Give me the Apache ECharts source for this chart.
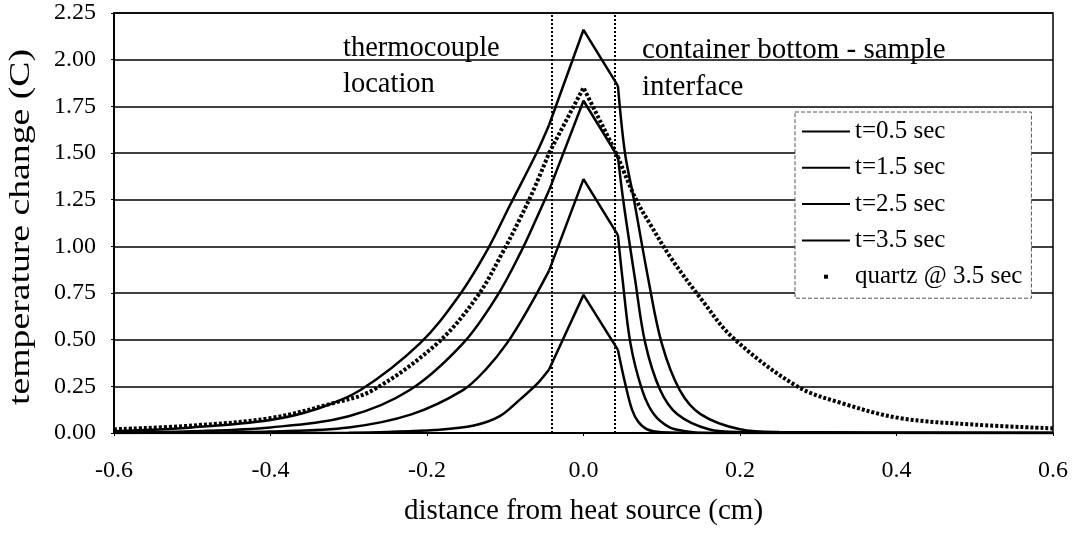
<!DOCTYPE html>
<html lang="en">
  <head>
    <meta charset="UTF-8" />
    <title>Temperature change vs distance from heat source</title>
    <script src="https://cdn.jsdelivr.net/npm/echarts@6/dist/echarts.min.js"></script>
    <style>
      body {
        margin: 0;
        background-color: #ffffff;
      }
      #chart {
        width: 1073px;
        height: 536px;
      }
    </style>
  </head>
  <body>
    <div id="chart"></div>
    <script>
      // values
      var x05 = [-0.6, -0.4, -0.3, -0.25, -0.19, -0.14, -0.107, -0.081, -0.06, -0.044, 0, 0.044, 0.053, 0.062, 0.07, 0.081, 0.1, 0.15, 0.6];
      var y05 = [0, 0, 0.002, 0.006, 0.016, 0.04, 0.09, 0.18, 0.26, 0.34, 0.74, 0.445, 0.27, 0.125, 0.06, 0.02, 0.004, 0, 0];

      var x15 = [-0.6, -0.5, -0.4, -0.3, -0.22, -0.154, -0.125, -0.098, -0.07, -0.044, 0, 0.044, 0.05, 0.06, 0.075, 0.09, 0.11, 0.13, 0.16, 0.6];
      var y15 = [0, 0.002, 0.008, 0.03, 0.1, 0.23, 0.34, 0.48, 0.67, 0.87, 1.36, 1.06, 0.82, 0.48, 0.23, 0.1, 0.03, 0.01, 0, 0];

      var x25 = [-0.6, -0.5, -0.4, -0.3, -0.222, -0.154, -0.111, -0.08, -0.06, -0.044, 0, 0.044, 0.051, 0.066, 0.079, 0.098, 0.12, 0.16, 0.2, 0.6];
      var y25 = [0.003, 0.01, 0.03, 0.09, 0.23, 0.48, 0.73, 0.97, 1.15, 1.3, 1.78, 1.48, 1.24, 0.82, 0.48, 0.23, 0.1, 0.02, 0.005, 0];

      var x35 = [-0.6, -0.5, -0.4, -0.34, -0.285, -0.209, -0.16, -0.123, -0.094, -0.06, -0.044, 0, 0.044, 0.053, 0.064, 0.083, 0.1, 0.123, 0.15, 0.2, 0.25, 0.6];
      var y35 = [0.01, 0.03, 0.07, 0.13, 0.23, 0.48, 0.73, 0.98, 1.22, 1.5, 1.65, 2.16, 1.86, 1.5, 1.26, 0.82, 0.48, 0.23, 0.1, 0.02, 0.005, 0];

      var xq = [-0.6, -0.5, -0.4, -0.32, -0.269, -0.187, -0.136, -0.103, -0.081, -0.064, -0.044, 0, 0.044, 0.066, 0.085, 0.113, 0.15, 0.191, 0.273, 0.33, 0.404, 0.5, 0.6];
      var yq = [0.02, 0.04, 0.08, 0.16, 0.23, 0.48, 0.73, 0.97, 1.15, 1.3, 1.5, 1.85, 1.48, 1.26, 1.12, 0.93, 0.72, 0.51, 0.25, 0.16, 0.08, 0.045, 0.025];

      var names = ["t=0.5 sec", "t=1.5 sec", "t=2.5 sec", "t=3.5 sec", "quartz @ 3.5 sec"];
      // thermocouple location and container bottom / sample interface
      var markerX = [-0.044, 0.044];

      var serif = '"Liberation Serif", "Times New Roman", serif';
      var chart = echarts.init(document.getElementById("chart"));

      // each curve is cut at the two marker lines: smooth tails, straight middle
      function pieces(name, xs, ys, lineStyle) {
        var pts = xs.map(function (x, i) {
          return [x, ys[i]];
        });
        var lo = markerX[0];
        var hi = markerX[1];
        var parts = [
          { data: pts.filter(function (p) { return p[0] <= lo; }), smooth: 0.35 },
          { data: pts.filter(function (p) { return p[0] >= lo && p[0] <= hi; }), smooth: false },
          { data: pts.filter(function (p) { return p[0] >= hi; }), smooth: 0.35 },
        ];
        return parts.map(function (part) {
          return {
            name: name,
            type: "line",
            symbol: "none",
            showSymbol: false,
            smooth: part.smooth,
            data: part.data,
            color: "#000",
            lineStyle: lineStyle,
            z: 3,
          };
        });
      }

      var solid = { color: "#000", width: 2.5 };
      var dots = { color: "#000", width: 4, type: [3, 2] };

      var series = []
        .concat(pieces(names[0], x05, y05, solid))
        .concat(pieces(names[1], x15, y15, solid))
        .concat(pieces(names[2], x25, y25, solid))
        .concat(pieces(names[3], x35, y35, solid))
        .concat(pieces(names[4], xq, yq, dots));

      series[0].markLine = {
        silent: true,
        symbol: ["none", "none"],
        label: { show: false },
        lineStyle: { color: "#000", type: "dotted", width: 2 },
        data: markerX.map(function (x) {
          return { xAxis: x };
        }),
      };

      var lineIcon = "path://M0,0 M48,14 M0,6 L48,6 L48,8 L0,8 Z";
      var dotIcon = "path://M0,0 M48,14 M22,5 L26,5 L26,9 L22,9 Z";

      var options = {
        animation: false,
        backgroundColor: "#fff",
        grid: {
          left: 114,
          right: 20,
          top: 13,
          bottom: 103,
          show: true,
          borderColor: "#000",
          borderWidth: 1.5,
        },
        legend: {
          orient: "vertical",
          left: 795,
          top: 112,
          padding: [7, 9, 9, 7],
          itemGap: 11.3,
          itemWidth: 48,
          itemHeight: 14,
          backgroundColor: "#fff",
          borderColor: "#555",
          borderWidth: 1,
          borderType: "dashed",
          textStyle: { fontFamily: serif, fontSize: 25, color: "#000" },
          data: [
            { name: names[0], icon: lineIcon },
            { name: names[1], icon: lineIcon },
            { name: names[2], icon: lineIcon },
            { name: names[3], icon: lineIcon },
            { name: names[4], icon: dotIcon },
          ],
        },
        xAxis: {
          type: "value",
          min: -0.6,
          max: 0.6,
          interval: 0.2,
          name: "distance from heat source (cm)",
          nameLocation: "middle",
          nameGap: 64,
          nameTextStyle: { fontFamily: serif, fontSize: 29, color: "#000" },
          axisLine: { lineStyle: { color: "#000", width: 2 } },
          axisTick: { show: true, length: 3, lineStyle: { color: "#000" } },
          axisLabel: {
            margin: 26,
            fontFamily: serif,
            fontSize: 24,
            color: "#000",
            formatter: function (v) {
              return v.toFixed(1);
            },
          },
          splitLine: { show: false },
        },
        yAxis: {
          type: "value",
          min: 0,
          max: 2.25,
          interval: 0.25,
          axisLine: { show: true, onZero: false, lineStyle: { color: "#000", width: 2 } },
          axisTick: { show: true, length: 3, lineStyle: { color: "#000" } },
          axisLabel: {
            margin: 18,
            fontFamily: serif,
            fontSize: 24,
            color: "#000",
            formatter: function (v) {
              return v.toFixed(2);
            },
          },
          splitLine: { show: true, lineStyle: { color: "#000", width: 1.5 } },
        },
        graphic: [
          {
            // the scanned axis title is stretched along its length
            type: "text",
            x: 21,
            y: 227,
            rotation: Math.PI / 2,
            scaleX: 1.3,
            style: {
              text: "temperature change (C)",
              font: "29px " + serif,
              textAlign: "center",
              textVerticalAlign: "middle",
              fill: "#000",
            },
          },
          {
            type: "text",
            left: 343,
            top: 31,
            style: {
              text: "thermocouple\nlocation",
              font: "28.5px " + serif,
              lineHeight: 36,
              fill: "#000",
            },
          },
          {
            type: "text",
            left: 642,
            top: 32,
            style: {
              text: "container bottom - sample\ninterface",
              font: "29px " + serif,
              lineHeight: 37,
              fill: "#000",
            },
          },
        ],
        series: series,
      };

      chart.setOption(options);
    </script>
  </body>
</html>
